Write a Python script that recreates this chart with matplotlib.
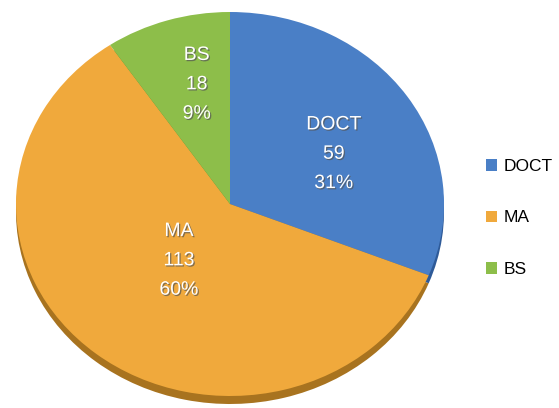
import numpy as np
import matplotlib
matplotlib.use("Agg")
import matplotlib.pyplot as plt
import matplotlib.patheffects as pe

plt.rcParams['font.family'] = ['Liberation Sans', 'DejaVu Sans']

labels = ['DOCT', 'MA', 'BS']
counts = [59, 113, 18]
percents = ['31%', '60%', '9%']

top_colors = ['#4a7fc6', '#f0a93c', '#8dbe4a']
rim_colors = ['#2e5a98', '#a8731f', '#5f8a2c']
# where the text sits inside each wedge: fraction of radius, angle nudge (deg)
label_dist = [0.55, 0.38, 0.64]
label_nudge = [-6, 0, -3]

W, H = 559, 408
cx, cy = 230, 204        # pie centre in pixels (from bottom)
rx, ry = 214, 192        # pixels per data unit
depth = 8 / ry           # thickness of the rim

fig = plt.figure(figsize=(W / 100, H / 100), dpi=100)
ax = fig.add_axes([0, 0, 1, 1])

# darker copy shifted down gives the 3D rim
ax.pie(counts, colors=rim_colors, startangle=90, counterclock=False,
       center=(0, -depth), wedgeprops=dict(linewidth=0))
wedges, _ = ax.pie(counts, colors=top_colors, startangle=90, counterclock=False,
                   wedgeprops=dict(linewidth=0))

shadow = [pe.SimplePatchShadow(offset=(0.9, -0.9), shadow_rgbFace='#555555', alpha=0.7),
          pe.Normal()]
for w, lab, n, pct, d, nudge in zip(wedges, labels, counts, percents, label_dist, label_nudge):
    ang = np.deg2rad((w.theta1 + w.theta2) / 2 + nudge)
    ax.text(d * np.cos(ang), d * np.sin(ang), f"{lab}\n{n}\n{pct}",
            ha='center', va='center', color='white', fontsize=14,
            linespacing=1.95, path_effects=shadow)

ax.set_aspect('auto')
ax.set_xlim(-cx / rx, (W - cx) / rx)
ax.set_ylim(-cy / ry, (H - cy) / ry)
ax.axis('off')

fig.legend(wedges, labels, loc='center left', bbox_to_anchor=(470 / W, 1 - 218 / H),
           frameon=False, fontsize=12.5, handlelength=0.63, handleheight=0.63,
           handletextpad=0.4, labelspacing=2.1)

fig.savefig('out.png', dpi=100)
